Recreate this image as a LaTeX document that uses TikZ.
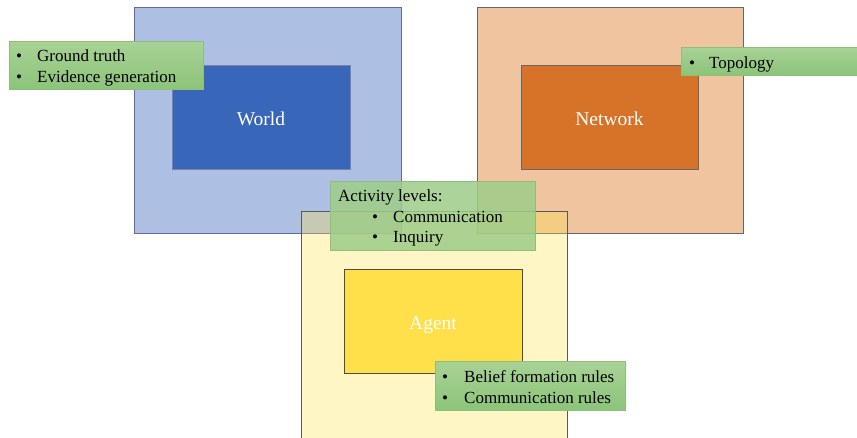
\documentclass[tikz,border=0pt]{standalone}
\usepackage{fontspec}
\setmainfont{Liberation Serif}
\definecolor{wOut}{HTML}{ADC0E3}
\definecolor{wIn}{HTML}{3866B9}
\definecolor{nOut}{HTML}{F0C49F}
\definecolor{nIn}{HTML}{D67329}
\definecolor{aOut}{HTML}{FFE04B}
\definecolor{aIn}{HTML}{FFE04B}
\definecolor{gTop}{HTML}{A8D296}
\definecolor{gBot}{HTML}{8CC47A}
\definecolor{gFlat}{HTML}{9ECD88}
\definecolor{gLine}{HTML}{8DBF7B}
\begin{document}
\begin{tikzpicture}[x=1pt,y=-1pt,
  box/.style={draw=#1, line width=0.8pt},
  lbl/.style={font=\fontsize{17}{20}\selectfont, inner sep=0pt, anchor=base west},
  ctr/.style={font=\fontsize{19.5}{22}\selectfont, inner sep=0pt, anchor=base, text=white},
  gbox/.style={draw=gLine, line width=0.8pt, top color=gTop, bottom color=gBot}
]
\useasboundingbox (0,0) rectangle (857,437);
% World
\draw[box=black!60!blue!60, fill=wOut] (134,7) rectangle (401,233);
\draw[box=black!70!blue!50, fill=wIn] (172,65) rectangle (350,169);
\node[ctr] (world) at (261,125) {World};
% Network
\draw[box=black!60, fill=nOut] (477,7) rectangle (743,233);
\draw[box=black!60, fill=nIn] (521,65) rectangle (698,169);
\node[ctr] (network) at (609.5,125) {Network};
% Agent
\draw[draw=black!65, line width=0.8pt, fill=aOut, fill opacity=0.32] (301,211) rectangle (567,440);
\draw[box=black!70, fill=aIn] (344,269) rectangle (522,373);
\node[ctr] (agent) at (433,329) {Agent};
% Green notes
\draw[gbox] (9,41) rectangle (203,89);
\node[lbl] (b1) at (16,61) {•};
\node[lbl] (t1) at (37,61) {Ground truth};
\node[lbl] (b2) at (16,82) {•};
\node[lbl] (t2) at (37,82) {Evidence generation};

\draw[gbox] (681,47) rectangle (860,75);
\node[lbl] (b3) at (689,68) {•};
\node[lbl] (t3) at (709,68) {Topology};

\draw[draw=gLine, line width=0.8pt, fill=gFlat, fill opacity=0.85] (330,181) rectangle (535,250);
\node[lbl] (t4) at (338,201) {Activity levels:};
\node[lbl] (b5) at (372,222) {•};
\node[lbl] (t5) at (393,222) {Communication};
\node[lbl] (b6) at (372,242) {•};
\node[lbl] (t6) at (393,242) {Inquiry};

\draw[gbox] (435,361) rectangle (625,410);
\node[lbl] (b7) at (442,382) {•};
\node[lbl] (t7) at (464,382) {Belief formation rules};
\node[lbl] (b8) at (442,403) {•};
\node[lbl] (t8) at (464,403) {Communication rules};
\end{tikzpicture}
\end{document}
